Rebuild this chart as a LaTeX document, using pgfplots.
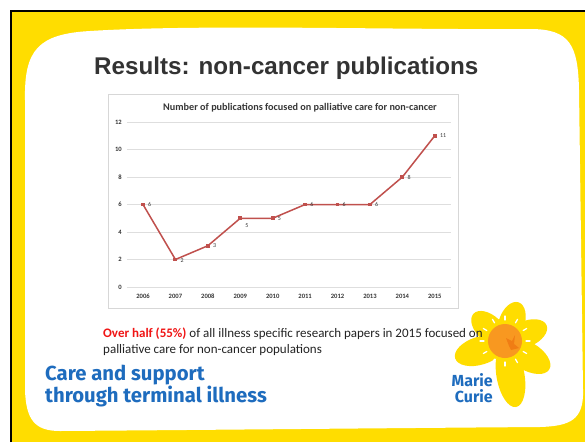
\documentclass[border=0pt]{standalone}
\usepackage{pgfplots}
\pgfplotsset{compat=1.18}
\usepackage{fontspec}
\setmainfont{Carlito}
\newfontfamily\arialfont{Liberation Sans}
\newfontfamily\brandfont{Fira Sans}
\usetikzlibrary{shapes.geometric,calc}
\definecolor{mcyellow}{RGB}{255,221,0}
\definecolor{mcblue}{RGB}{30,108,190}
\definecolor{mcorange}{RGB}{248,152,32}
\definecolor{mcorangedk}{RGB}{240,125,20}
\definecolor{titlegray}{RGB}{51,51,51}
\definecolor{bodytext}{RGB}{35,35,35}
\definecolor{redtext}{RGB}{240,20,20}
\definecolor{linered}{RGB}{192,80,77}
\definecolor{gridgray}{RGB}{222,222,222}
\definecolor{ticktext}{RGB}{55,55,55}
\definecolor{framegray}{RGB}{215,215,215}

\begin{document}
\begin{tikzpicture}[x=1pt,y=-1pt]
\path[use as bounding box] (0,0) rectangle (585,442);
\fill[white] (0,0) rectangle (585,442);
\fill[mcyellow] (11,11) rectangle (585,442);
\draw[black, line width=2.4pt] (11,442) -- (11,11) -- (585,11);
% white rounded panel
\fill[white] (25,100) .. controls (24,50) and (38,34) .. (90,31)
  .. controls (200,24) and (400,30) .. (530,29)
  .. controls (570,29) and (578,45) .. (579,90)
  -- (583,390) .. controls (584,420) and (570,426) .. (540,427)
  .. controls (400,428) and (200,430) .. (60,431)
  .. controls (35,431) and (26,420) .. (25,390) -- cycle;

% slide title
\node[anchor=base west, inner sep=0, text=titlegray,
      font=\arialfont\bfseries\fontsize{24.2}{28}\selectfont] at (94,74) {Results: non-cancer publications};

% chart frame
\draw[framegray, line width=0.6pt, fill=white] (108,94) rectangle (458,308);
\node[inner sep=0, text=ticktext, font=\bfseries\fontsize{10.2}{11}\selectfont] at (300,108)
  {Number of publications focused on palliative care for non-cancer};

\begin{scope}[x=1pt,y=1pt]
\begin{axis}[
  at={(126.8pt,-287pt)}, anchor=south west,
  scale only axis, width=324.2pt, height=165pt,
  xmin=-0.5, xmax=9.5, ymin=0, ymax=12,
  xtick={0,...,9},
  xticklabels={2006,2007,2008,2009,2010,2011,2012,2013,2014,2015},
  ytick={0,2,4,6,8,10,12},
  axis line style={draw=none},
  ymajorgrids, major grid style={draw=gridgray, line width=0.6pt},
  major tick length=0pt,
  tick label style={font=\fontsize{6.6}{7}\selectfont\bfseries, text=ticktext},
  /pgf/number format/assume math mode=true,
  xticklabel style={yshift=-3.5pt},
  yticklabel style={xshift=-1.5pt},
  clip=false,
]
\addplot[linered, line width=1.5pt, mark=square*, mark size=1.2pt,
  mark options={fill=linered}]
  coordinates {(0,6)(1,2)(2,3)(3,5)(4,5)(5,6)(6,6)(7,6)(8,8)(9,11)};
\addplot[draw=none, mark=none, nodes near coords,
  every node near coord/.style={anchor=west, inner sep=0pt, xshift=5pt,
    font=\fontsize{6}{7}\selectfont, text=ticktext}]
  coordinates {(0,6)(2,3)(4,5)(5,6)(6,6)(7,6)(8,8)(9,11)};
\addplot[draw=none, mark=none, nodes near coords,
  every node near coord/.style={anchor=west, inner sep=0pt, xshift=5pt, yshift=-1.5pt,
    font=\fontsize{6}{7}\selectfont, text=ticktext}]
  coordinates {(1,2)};
\addplot[draw=none, mark=none, nodes near coords,
  every node near coord/.style={anchor=west, inner sep=0pt, xshift=5pt, yshift=-7pt,
    font=\fontsize{6}{7}\selectfont, text=ticktext}]
  coordinates {(3,5)};
\end{axis}
\end{scope}

% daffodil (behind the text)
\fill[mcyellow] (511.6,323.2) ellipse [x radius=22pt, y radius=13pt, rotate=71.6];
\fill[mcyellow] (489.6,328.7) ellipse [x radius=22pt, y radius=13pt, rotate=137];
\fill[mcyellow] (525.4,334.2) ellipse [x radius=23pt, y radius=13pt, rotate=23];
\fill[mcyellow] (527,356) ellipse [x radius=26pt, y radius=14pt, rotate=-31];
\fill[mcyellow] (510.5,375.5) ellipse [x radius=32pt, y radius=14pt, rotate=-80];
\fill[mcyellow] (480,350.7) ellipse [x radius=26pt, y radius=14pt, rotate=-163];
\fill[mcorange] (505,341) circle [radius=17pt];
\fill[mcorangedk] (509,346) -- (506,338) -- (512,341) -- (515,335) -- (514,344) -- (519,348) -- (511,350) -- cycle;
\foreach \a in {0,30,...,330}{
  \draw[white, line width=1.3pt, line cap=round] ($(505,341)+(\a:21pt)$) -- ($(505,341)+(\a:25pt)$);
}

% body text
\node[anchor=base west, inner sep=0, text=bodytext, font=\fontsize{13}{15}\selectfont] at (103,337)
  {\textcolor{redtext}{\bfseries Over half (55\%)} of all illness specific research papers in 2015 focused on};
\node[anchor=base west, inner sep=0, text=bodytext, font=\fontsize{13}{15}\selectfont] at (103,353)
  {palliative care for non-cancer populations};

% strapline
\node[anchor=base west, inner sep=0, text=mcblue, font=\brandfont\bfseries\fontsize{20.3}{24}\selectfont] at (45,380) {Care and support};
\node[anchor=base west, inner sep=0, text=mcblue, font=\brandfont\bfseries\fontsize{20.3}{24}\selectfont] at (45,402) {through terminal illness};

% logo text
\node[anchor=base east, inner sep=0, text=mcblue, font=\brandfont\bfseries\fontsize{16}{17}\selectfont] at (493,386) {Marie};
\node[anchor=base east, inner sep=0, text=mcblue, font=\brandfont\bfseries\fontsize{16}{17}\selectfont] at (493,402) {Curie};
\end{tikzpicture}
\end{document}
